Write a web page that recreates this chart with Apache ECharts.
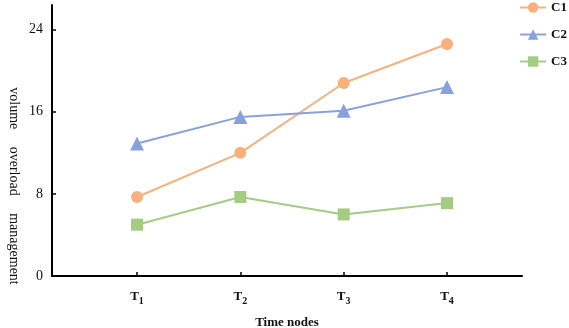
<!DOCTYPE html>
<html>
<head>
<meta charset="utf-8">
<style>
  html, body { margin: 0; padding: 0; background: #fff; }
  #chart { width: 569px; height: 328px; }
</style>
<script src="https://cdn.jsdelivr.net/npm/echarts@6/dist/echarts.min.js"></script>
</head>
<body>
<div id="chart"></div>
<script>
const categories = ["T1", "T2", "T3", "T4"];
const c1 = [7.7, 12.0, 18.8, 22.6];
const c2 = [12.9, 15.5, 16.1, 18.4];
const c3 = [5.0, 7.7, 6.0, 7.1];
const yTicks = [0, 8, 16, 24];

const font = "Liberation Serif";
const positions = categories.map((_, i) => i + 1);
const toPoints = (values) => values.map((v, i) => [positions[i], v]);

const myChart = echarts.init(document.getElementById("chart"), null, { renderer: "canvas" });

const makeSeries = (name, values, symbol, size, color) => ({
  name,
  type: "line",
  data: toPoints(values),
  symbol,
  symbolSize: size,
  showAllSymbol: true,
  lineStyle: { width: 2, color },
  itemStyle: { color },
  emphasis: { disabled: true },
});

const option = {
  animation: false,
  textStyle: { fontFamily: font },
  grid: { left: 52, right: 47, top: 5, bottom: 52, outerBoundsMode: "none" },
  legend: {
    orient: "vertical",
    right: -3,
    top: -4,
    itemGap: 14,
    itemWidth: 26,
    itemHeight: 13,
    textStyle: { fontFamily: font, fontSize: 13, fontWeight: "bold", color: "#111" },
    data: ["C1", "C2", "C3"],
  },
  xAxis: {
    type: "value",
    min: 0.177,
    max: 4.726,
    name: "Time nodes",
    nameLocation: "middle",
    nameGap: 40,
    nameTextStyle: { fontFamily: font, fontSize: 13, fontWeight: "bold", color: "#111" },
    splitLine: { show: false },
    axisLine: { show: true, lineStyle: { color: "#000", width: 2 } },
    axisTick: { show: true, inside: true, length: 4, lineStyle: { color: "#000", width: 1.5 }, customValues: positions },
    axisLabel: {
      customValues: positions,
      margin: 14,
      formatter: (v) => {
        const lab = categories[Math.round(v) - 1] || "";
        return "{a|" + lab.charAt(0) + "}{b|" + lab.slice(1) + "}";
      },
      rich: {
        a: { fontFamily: font, fontSize: 13, fontWeight: "bold", color: "#111", verticalAlign: "bottom" },
        b: { fontFamily: font, fontSize: 10, fontWeight: "bold", color: "#111", verticalAlign: "bottom", padding: [0, 0, -3, 0] },
      },
    },
  },
  yAxis: {
    type: "value",
    min: 0,
    max: 26.4,
    splitLine: { show: false },
    axisLine: { show: true, lineStyle: { color: "#000", width: 2 } },
    axisTick: { show: true, inside: true, length: 4, lineStyle: { color: "#000", width: 1.5 }, customValues: yTicks },
    axisLabel: { customValues: yTicks, margin: 9, fontFamily: font, fontSize: 14, color: "#111" },
  },
  graphic: [
    {
      type: "text",
      x: 14,
      y: 186,
      rotation: -Math.PI / 2,
      style: {
        text: "volume     overload     management",
        fontFamily: font,
        fontSize: 14,
        fill: "#111",
        align: "center",
        verticalAlign: "middle",
      },
    },
  ],
  series: [
    makeSeries("C1", c1, "circle", 12, "#f9b07c"),
    makeSeries("C2", c2, "triangle", 14, "#86a0e0"),
    makeSeries("C3", c3, "rect", 12, "#a4cc83"),
  ],
};

myChart.setOption(option);
</script>
</body>
</html>
